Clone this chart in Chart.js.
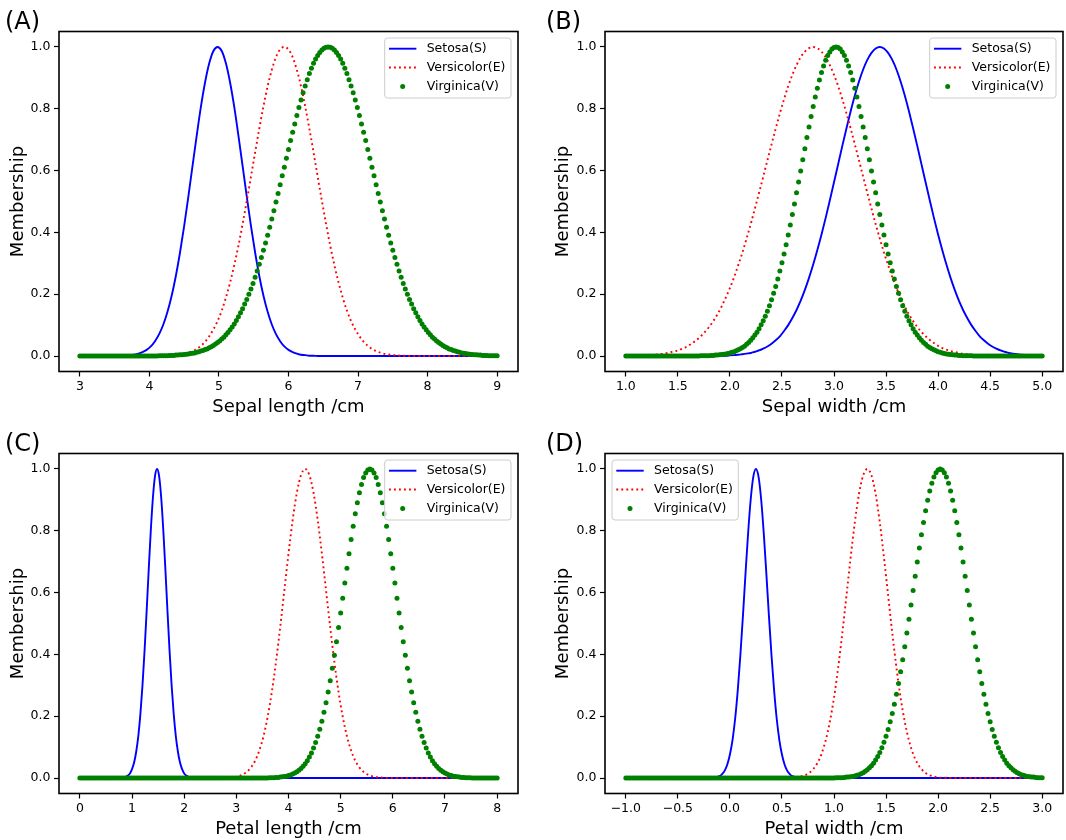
<!DOCTYPE html>
<html lang="en">
<head>
    <meta charset="UTF-8">
    <title>Iris membership functions</title>
    <script src="https://cdn.jsdelivr.net/npm/chart.js"></script>
    <style>
        body {
            margin: 0;
            width: 1066px;
            height: 840px;
            overflow: hidden;
            background: #fff;
        }
        .panel {
            position: absolute;
            width: 533px;
            height: 420px;
        }
    </style>
</head>
<body>
    <div class="panel" style="left:0;top:0"><canvas id="chartA" width="533" height="420"></canvas></div>
    <div class="panel" style="left:533px;top:0"><canvas id="chartB" width="533" height="420"></canvas></div>
    <div class="panel" style="left:0;top:422px"><canvas id="chartC" width="533" height="420"></canvas></div>
    <div class="panel" style="left:533px;top:422px"><canvas id="chartD" width="533" height="420"></canvas></div>

    <script>
        // ---- text ----
        const panelTags = ["(A)", "(B)", "(C)", "(D)"];
        const xTitles = ["Sepal length /cm", "Sepal width /cm", "Petal length /cm", "Petal width /cm"];
        const yTitle = "Membership";
        const seriesNames = ["Setosa(S)", "Versicolor(E)", "Virginica(V)"];

        // ---- tick labels ----
        const xTicksA = [3, 4, 5, 6, 7, 8, 9];
        const xTicksB = [1.0, 1.5, 2.0, 2.5, 3.0, 3.5, 4.0, 4.5, 5.0];
        const xTicksC = [0, 1, 2, 3, 4, 5, 6, 7, 8];
        const xTicksD = [-1.0, -0.5, 0.0, 0.5, 1.0, 1.5, 2.0, 2.5, 3.0];
        const yTicks = [0.0, 0.2, 0.4, 0.6, 0.8, 1.0];

        // ---- series: each one sampled on an even grid [first x, step] ----
        const setosaAGrid = [3, 0.06];
        const setosaA = [
            0,0,0,0,0,0,0,0,0,0,
            0.001,0.001,0.003,0.004,0.008,0.013,0.020,0.031,0.048,0.071,0.102,0.143,0.195,0.259,0.335,0.421,0.516,0.615,0.713,0.806,0.885,0.947,0.987,
            1,
            0.987,0.947,0.885,0.806,0.713,0.615,0.516,0.421,0.335,0.259,0.195,0.143,0.102,0.071,0.048,0.031,0.020,0.013,0.008,0.004,0.003,0.001,0.001,
            0,0,0,0,0,0,0,0,0,0, 0,0,0,0,0,0,0,0,0,0,
            0,0,0,0,0,0,0,0,0,0, 0,0,0,0,0,0,0,0,0,0,
            0,0,0,0
        ];
        const versicolorAGrid = [3, 0.06];
        const versicolorA = [
            0,0,0,0,0,0,0,0,0,0, 0,0,0,0,0,0,0,0,0,0,
            0.001,0.001,0.002,0.003,0.005,0.007,0.011,0.016,0.023,0.033,0.046,0.064,0.086,0.113,0.147,
            0.189,0.238,0.294,0.357,0.427,0.502,0.580,0.659,0.736,0.808,0.873,0.926,0.967,0.992,
            1,
            0.992,0.967,0.926,0.873,0.808,0.736,0.659,0.580,0.502,0.427,0.357,0.294,0.238,0.189,
            0.147,0.113,0.086,0.064,0.046,0.033,0.023,0.016,0.011,0.007,0.005,0.003,0.002,0.001,0.001,
            0,0,0,0,0,0,0,0,0,0, 0,0,0,0,0,0,0,0,0,0,
            0,0
        ];
        const virginicaAGrid = [3, 0.03];
        const virginicaA = [
            0,0,0,0,0,0,0,0,0,0, 0,0,0,0,0,0,0,0,0,0,
            0,0,0,0,0,0,0,0,0,0, 0,0,0,0,0,0,0,0,
            0.001,0.001,0.001,0.001,0.001,0.002,0.002,0.002,0.003,0.003,
            0.004,0.004,0.005,0.006,0.007,0.008,0.009,0.010,0.012,0.014,
            0.016,0.018,0.021,0.023,0.027,0.030,0.034,0.039,0.044,0.049,
            0.055,0.061,0.069,0.076,0.085,0.094,0.104,0.115,0.127,0.140,
            0.153,0.168,0.183,0.200,0.217,0.235,0.255,0.275,0.297,0.319,
            0.342,0.366,0.391,0.417,0.443,0.470,0.498,0.526,0.554,0.583,
            0.611,0.640,0.668,0.697,0.724,0.751,0.778,0.804,0.828,0.852,
            0.874,0.894,0.914,0.931,0.947,0.961,0.972,0.982,0.990,0.996,
            0.999,
            1,
            0.999,0.996,0.990,0.982,0.972,0.961,0.947,0.931,0.914,0.894,
            0.874,0.852,0.828,0.804,0.778,0.751,0.724,0.697,0.668,0.640,
            0.611,0.583,0.554,0.526,0.498,0.470,0.443,0.417,0.391,0.366,
            0.342,0.319,0.297,0.275,0.255,0.235,0.217,0.200,0.183,0.168,
            0.153,0.140,0.127,0.115,0.104,0.094,0.085,0.076,0.069,0.061,
            0.055,0.049,0.044,0.039,0.034,0.030,0.027,0.023,0.021,0.018,
            0.016,0.014,0.012,0.010,0.009,0.008,0.007,0.006,0.005,0.004,
            0.004,0.003,0.003,0.002,0.002,0.002,0.001,0.001,0.001,0.001,
            0.001
        ];

        const setosaBGrid = [1, 0.04];
        const setosaB = [
            0,0,0,0,0,0,0,0,0,0, 0,0,0,0,0,0,0,0,0,0,
            0,0,
            0.001,0.001,0.001,0.002,0.003,0.004,0.006,0.008,0.010,0.014,
            0.018,0.024,0.031,0.040,0.051,0.064,0.081,0.100,0.123,0.149,
            0.179,0.214,0.253,0.296,0.343,0.393,0.447,0.504,0.562,0.621,
            0.680,0.737,0.792,0.843,0.888,0.927,0.958,0.981,0.995,
            1,
            0.995,0.981,0.958,0.927,0.888,0.843,0.792,0.737,0.680,
            0.621,0.562,0.504,0.447,0.393,0.343,0.296,0.253,0.214,0.179,
            0.149,0.123,0.100,0.081,0.064,0.051,0.040,0.031,0.024,0.018,
            0.014,0.010,0.008,0.006,0.004,0.003,0.002,0.001,0.001,0.001
        ];
        const versicolorBGrid = [1, 0.04];
        const versicolorB = [
            0,
            0.001,0.001,0.001,0.002,0.002,0.003,0.004,0.006,0.007,0.010,
            0.013,0.016,0.021,0.026,0.033,0.042,0.052,0.064,0.078,0.094,
            0.113,0.135,0.160,0.189,0.220,0.255,0.294,0.335,0.380,0.427,
            0.477,0.528,0.580,0.633,0.685,0.736,0.785,0.831,0.873,0.910,
            0.941,0.967,0.985,0.996,
            1,
            0.996,0.985,0.967,0.941,
            0.910,0.873,0.831,0.785,0.736,0.685,0.633,0.580,0.528,0.477,
            0.427,0.380,0.335,0.294,0.255,0.220,0.189,0.160,0.135,0.113,
            0.094,0.078,0.064,0.052,0.042,0.033,0.026,0.021,0.016,0.013,
            0.010,0.007,0.006,0.004,0.003,0.002,0.002,0.001,0.001,0.001,
            0,0,0,0,0,0,0,0,0,0, 0
        ];
        const virginicaBGrid = [1, 0.02];
        const virginicaB = [
            0,0,0,0,0,0,0,0,0,0, 0,0,0,0,0,0,0,0,0,0,
            0,0,0,0,0,0,0,0,0,0, 0,0,0,0,0,0,
            0.001,0.001,0.001,0.001,0.001,0.002,0.002,0.003,0.003,0.004,
            0.005,0.006,0.007,0.008,0.010,0.012,0.014,0.017,0.020,0.024,
            0.028,0.032,0.038,0.044,0.051,0.059,0.068,0.077,0.088,0.101,
            0.114,0.129,0.145,0.163,0.182,0.203,0.225,0.249,0.275,0.302,
            0.330,0.360,0.392,0.424,0.458,0.492,0.528,0.563,0.599,0.635,
            0.671,0.707,0.741,0.775,0.807,0.838,0.866,0.893,0.917,0.938,
            0.957,0.972,0.984,0.993,0.998,
            1,
            0.998,0.993,0.984,0.972,0.957,
            0.938,0.917,0.893,0.866,0.838,0.807,0.775,0.741,0.707,0.671,
            0.635,0.599,0.563,0.528,0.492,0.458,0.424,0.392,0.360,0.330,
            0.302,0.275,0.249,0.225,0.203,0.182,0.163,0.145,0.129,0.114,
            0.101,0.088,0.077,0.068,0.059,0.051,0.044,0.038,0.032,0.028,
            0.024,0.020,0.017,0.014,0.012,0.010,0.008,0.007,0.006,0.005,
            0.004,0.003,0.003,0.002,0.002,0.001,0.001,0.001,0.001,0.001,
            0,0,0,0,0,0,0,0,0,0, 0,0,0,0,0,0,0,0,0,0,
            0,0,0,0,0,0,0,0,0,0, 0,0,0,0
        ];

        const setosaCGrid = [0, 0.04];
        const setosaC = [
            0,0,0,0,0,0,0,0,0,0, 0,0,0,0,0,0,0,0,0,0,
            0.001,0.002,0.004,0.008,0.015,0.029,0.050,0.085,0.135,0.206,0.298,0.411,0.539,0.674,0.801,0.906,0.976,
            1,
            0.976,0.906,0.801,0.674,0.539,0.411,0.298,0.206,0.135,0.085,0.050,0.029,0.015,0.008,0.004,0.002,0.001,
            0,0,0,0,0,0,0,0,0,0, 0,0,0,0,0,0,0,0,0,0,
            0,0,0,0,0,0,0,0,0,0, 0,0,0,0,0,0,0,0,0,0,
            0,0,0,0,0,0,0,0,0,0, 0,0,0,0,0,0,0,0,0,0,
            0,0,0,0,0,0,0,0,0,0, 0,0,0,0,0,0,0,0,0,0,
            0,0,0,0,0,0,0,0,0,0, 0,0,0,0,0,0,0,0,0,0,
            0,0,0,0,0,0,0,0,0,0, 0,0,0,0,0,0,0,0,0,0,
            0,0,0,0,0,0,0,0,0,0, 0,0,0,0,0,0,0,0,0,0,
            0,0,0,0,0,0
        ];
        const versicolorCGrid = [0, 0.08];
        const versicolorC = [
            0,0,0,0,0,0,0,0,0,0, 0,0,0,0,0,0,0,0,0,0,
            0,0,0,0,0,0,0,0,0,0, 0,0,0,0,0,
            0.001,0.002,0.003,0.006,0.011,0.020,0.034,0.056,0.089,0.135,0.198,0.278,0.375,0.487,0.607,0.726,0.835,0.923,0.980,
            1,
            0.980,0.923,0.835,0.726,0.607,0.487,0.375,0.278,0.198,0.135,0.089,0.056,0.034,0.020,0.011,0.006,0.003,0.002,0.001,
            0,0,0,0,0,0,0,0,0,0, 0,0,0,0,0,0,0,0,0,0,
            0,0,0,0,0,0,0
        ];
        const virginicaCGrid = [0, 0.04];
        const virginicaC = [
            0,0,0,0,0,0,0,0,0,0, 0,0,0,0,0,0,0,0,0,0,
            0,0,0,0,0,0,0,0,0,0, 0,0,0,0,0,0,0,0,0,0,
            0,0,0,0,0,0,0,0,0,0, 0,0,0,0,0,0,0,0,0,0,
            0,0,0,0,0,0,0,0,0,0, 0,0,0,0,0,0,0,0,0,0,
            0,0,0,0,0,0,0,0,0,0, 0,
            0.001,0.001,0.001,0.002,0.002,0.003,0.004,0.005,0.006,0.008,
            0.010,0.013,0.016,0.020,0.025,0.031,0.038,0.046,0.056,0.068,
            0.081,0.097,0.115,0.135,0.158,0.184,0.213,0.244,0.278,0.315,
            0.355,0.397,0.441,0.487,0.534,0.582,0.631,0.679,0.726,0.772,
            0.815,0.855,0.891,0.923,0.950,0.972,0.987,0.997,
            1,
            0.997,0.987,0.972,0.950,0.923,0.891,0.855,0.815,
            0.772,0.726,0.679,0.631,0.582,0.534,0.487,0.441,0.397,0.355,
            0.315,0.278,0.244,0.213,0.184,0.158,0.135,0.115,0.097,0.081,
            0.068,0.056,0.046,0.038,0.031,0.025,0.020,0.016,0.013,0.010,
            0.008,0.006,0.005,0.004,0.003,0.002,0.002,0.001,0.001,0.001,
            0,0,0,0,0,0,0,0,0,0, 0,0,0
        ];

        const setosaDGrid = [-1, 0.025];
        const setosaD = [
            0,0,0,0,0,0,0,0,0,0, 0,0,0,0,0,0,0,0,0,0,
            0,0,0,0,0,0,0,0,0,0, 0,0,0,
            0.001,0.001,0.003,0.006,0.013,0.024,0.044,0.076,0.123,0.191,0.282,0.395,0.524,0.662,0.793,0.902,0.975,
            1,
            0.975,0.902,0.793,0.662,0.524,0.395,0.282,0.191,0.123,0.076,0.044,0.024,0.013,0.006,0.003,0.001,0.001,
            0,0,0,0,0,0,0,0,0,0, 0,0,0,0,0,0,0,0,0,0,
            0,0,0,0,0,0,0,0,0,0, 0,0,0,0,0,0,0,0,0,0,
            0,0,0,0,0,0,0,0,0,0, 0,0,0,0,0,0,0,0,0,0,
            0,0,0,0,0,0,0,0,0,0, 0,0,0,0,0,0,0,0,0,0,
            0,0,0,0,0,0,0,0,0,0, 0,0,0
        ];
        const versicolorDGrid = [-1, 0.04];
        const versicolorD = [
            0,0,0,0,0,0,0,0,0,0, 0,0,0,0,0,0,0,0,0,0,
            0,0,0,0,0,0,0,0,0,0, 0,0,0,0,0,0,0,0,0,
            0.001,0.001,0.002,0.005,0.009,0.016,0.029,0.048,0.078,0.122,0.182,0.260,0.357,0.469,0.591,0.714,0.827,0.919,0.979,
            1,
            0.979,0.919,0.827,0.714,0.591,0.469,0.357,0.260,0.182,0.122,0.078,0.048,0.029,0.016,0.009,0.005,0.002,0.001,0.001,
            0,0,0,0,0,0,0,0,0,0, 0,0,0,0,0,0,0,0,0,0,
            0,0,0
        ];
        const virginicaDGrid = [-1, 0.02];
        const virginicaD = [
            0,0,0,0,0,0,0,0,0,0, 0,0,0,0,0,0,0,0,0,0,
            0,0,0,0,0,0,0,0,0,0, 0,0,0,0,0,0,0,0,0,0,
            0,0,0,0,0,0,0,0,0,0, 0,0,0,0,0,0,0,0,0,0,
            0,0,0,0,0,0,0,0,0,0, 0,0,0,0,0,0,0,0,0,0,
            0,0,0,0,0,0,0,0,0,0, 0,0,0,0,0,0,0,0,0,0,
            0,
            0.001,0.001,0.001,0.001,0.002,0.003,0.003,0.004,0.005,0.007,
            0.009,0.011,0.014,0.017,0.022,0.027,0.033,0.040,0.048,0.058,
            0.070,0.083,0.098,0.116,0.135,0.157,0.182,0.209,0.239,0.271,
            0.306,0.344,0.383,0.425,0.469,0.514,0.560,0.607,0.653,0.699,
            0.744,0.787,0.827,0.865,0.899,0.929,0.954,0.974,0.988,0.997,
            1,
            0.997,0.988,0.974,0.954,0.929,0.899,0.865,0.827,0.787,0.744,
            0.699,0.653,0.607,0.560,0.514,0.469,0.425,0.383,0.344,0.306,
            0.271,0.239,0.209,0.182,0.157,0.135,0.116,0.098,0.083,0.070,
            0.058,0.048,0.040,0.033,0.027,0.022,0.017,0.014,0.011,0.009,
            0.007,0.005,0.004,0.003,0.003,0.002,0.001,0.001,0.001
        ];

        // ---- drawing ----
        const FONT = '"DejaVu Sans", sans-serif';
        Chart.defaults.font.family = FONT;
        Chart.defaults.color = "#000";

        function points(grid, ys) {
            return ys.map((y, i) => ({ x: grid[0] + i * grid[1], y: y }));
        }

        function tickText(v, decimals) {
            const s = Math.abs(v).toFixed(decimals);
            return v < 0 ? "\u2212" + s : s;
        }

        // frame, panel tag and matplotlib-like legend
        const decorPlugin = {
            id: "decor",
            afterDatasetsDraw(chart) {
                const ctx = chart.ctx, a = chart.chartArea;
                ctx.save();
                ctx.strokeStyle = "#000";
                ctx.lineWidth = 1.6;
                ctx.strokeRect(a.left, a.top, a.right - a.left, a.bottom - a.top);
                ctx.restore();
            },
            afterDraw(chart, args, opts) {
                const ctx = chart.ctx, a = chart.chartArea;
                ctx.save();
                ctx.fillStyle = "#000";
                ctx.textAlign = "left";
                ctx.textBaseline = "alphabetic";
                ctx.font = "24px " + FONT;
                ctx.fillText(opts.tag, opts.tagX, a.top - 3);

                ctx.font = "12.5px " + FONT;
                const sets = chart.data.datasets;
                const textW = Math.max(...sets.map(d => ctx.measureText(d.label).width));
                const w = 42 + textW + 5.5, h = 60, r = 3;
                const x = opts.legendSide === "left" ? a.left + 7 : a.right - 7 - w;
                const y = a.top + 6.5;
                ctx.beginPath();
                ctx.moveTo(x + r, y);
                ctx.arcTo(x + w, y, x + w, y + h, r);
                ctx.arcTo(x + w, y + h, x, y + h, r);
                ctx.arcTo(x, y + h, x, y, r);
                ctx.arcTo(x, y, x + w, y, r);
                ctx.closePath();
                ctx.fillStyle = "rgba(255,255,255,0.8)";
                ctx.fill();
                ctx.strokeStyle = "#cccccc";
                ctx.lineWidth = 1;
                ctx.stroke();

                sets.forEach((d, i) => {
                    const cy = y + 10.7 + i * 18.85;
                    if (d.showLine === false) {
                        ctx.beginPath();
                        ctx.arc(x + 18, cy, d.pointRadius, 0, Math.PI * 2);
                        ctx.fillStyle = d.pointBackgroundColor;
                        ctx.fill();
                    } else {
                        ctx.beginPath();
                        ctx.setLineDash(d.borderDash || []);
                        ctx.moveTo(x + 4.3, cy);
                        ctx.lineTo(x + 31.7, cy);
                        ctx.strokeStyle = d.borderColor;
                        ctx.lineWidth = d.borderWidth;
                        ctx.stroke();
                        ctx.setLineDash([]);
                    }
                    ctx.fillStyle = "#000";
                    ctx.textBaseline = "middle";
                    ctx.fillText(d.label, x + 42, cy);
                });
                ctx.restore();
            }
        };

        function makeChart(p) {
            const tickGrid = {
                display: true,
                drawOnChartArea: false,
                drawTicks: true,
                tickLength: 5,
                tickWidth: 1.2,
                tickColor: "#000"
            };
            new Chart(document.getElementById(p.id), {
                type: "line",
                data: {
                    datasets: [
                        {
                            label: seriesNames[0],
                            data: points(p.series[0][0], p.series[0][1]),
                            borderColor: "#0000ff",
                            borderWidth: 1.9,
                            pointRadius: 0,
                            fill: false,
                            cubicInterpolationMode: "monotone",
                            order: 3
                        },
                        {
                            label: seriesNames[1],
                            data: points(p.series[1][0], p.series[1][1]),
                            borderColor: "#ff0000",
                            borderWidth: 1.9,
                            borderDash: [1.9, 3.1],
                            borderCapStyle: "butt",
                            pointRadius: 0,
                            fill: false,
                            cubicInterpolationMode: "monotone",
                            order: 2
                        },
                        {
                            label: seriesNames[2],
                            data: points(p.series[2][0], p.series[2][1]),
                            showLine: false,
                            borderColor: "#008000",
                            pointBackgroundColor: "#008000",
                            pointBorderWidth: 0,
                            pointRadius: 2.5,
                            pointHoverRadius: 2.5,
                            order: 1
                        }
                    ]
                },
                options: {
                    responsive: false,
                    animation: false,
                    events: [],
                    layout: { padding: { left: p.padLeft, right: p.padRight, top: 31.5, bottom: 0 } },
                    plugins: {
                        legend: { display: false },
                        tooltip: { enabled: false },
                        decor: { tag: p.tag, tagX: p.tagX, legendSide: p.legendSide }
                    },
                    scales: {
                        x: {
                            type: "linear",
                            min: p.xMin,
                            max: p.xMax,
                            afterBuildTicks: s => { s.ticks = p.xTicks.map(v => ({ value: v })); },
                            afterFit: s => { s.height = 48.5; },
                            grid: tickGrid,
                            border: { display: false },
                            ticks: {
                                autoSkip: false,
                                maxRotation: 0,
                                padding: 2.5,
                                font: { size: 12.5 },
                                callback: v => tickText(v, p.decimals)
                            },
                            title: {
                                display: true,
                                text: p.xTitle,
                                font: { size: 18 },
                                padding: { top: 0, bottom: 2 }
                            }
                        },
                        y: {
                            type: "linear",
                            min: -0.05,
                            max: 1.05,
                            afterBuildTicks: s => { s.ticks = yTicks.map(v => ({ value: v })); },
                            afterFit: s => { s.width = p.yWidth; },
                            grid: tickGrid,
                            border: { display: false },
                            ticks: {
                                padding: 3.5,
                                font: { size: 12.5 },
                                callback: v => tickText(v, 1)
                            },
                            title: {
                                display: true,
                                text: yTitle,
                                font: { size: 18 },
                                padding: { top: 8, bottom: 0 }
                            }
                        }
                    }
                },
                plugins: [decorPlugin]
            });
        }

        makeChart({
            id: "chartA", tag: panelTags[0], tagX: 5, legendSide: "right",
            xTitle: xTitles[0], xMin: 2.7, xMax: 9.3, xTicks: xTicksA, decimals: 0,
            padLeft: 0, yWidth: 59, padRight: 15,
            series: [[setosaAGrid, setosaA], [versicolorAGrid, versicolorA], [virginicaAGrid, virginicaA]]
        });
        makeChart({
            id: "chartB", tag: panelTags[1], tagX: 13, legendSide: "right",
            xTitle: xTitles[1], xMin: 0.8, xMax: 5.2, xTicks: xTicksB, decimals: 1,
            padLeft: 12, yWidth: 60, padRight: 3,
            series: [[setosaBGrid, setosaB], [versicolorBGrid, versicolorB], [virginicaBGrid, virginicaB]]
        });
        makeChart({
            id: "chartC", tag: panelTags[2], tagX: 5, legendSide: "right",
            xTitle: xTitles[2], xMin: -0.4, xMax: 8.4, xTicks: xTicksC, decimals: 0,
            padLeft: 0, yWidth: 59, padRight: 15,
            series: [[setosaCGrid, setosaC], [versicolorCGrid, versicolorC], [virginicaCGrid, virginicaC]]
        });
        makeChart({
            id: "chartD", tag: panelTags[3], tagX: 13, legendSide: "left",
            xTitle: xTitles[3], xMin: -1.2, xMax: 3.2, xTicks: xTicksD, decimals: 1,
            padLeft: 12, yWidth: 60, padRight: 3,
            series: [[setosaDGrid, setosaD], [versicolorDGrid, versicolorD], [virginicaDGrid, virginicaD]]
        });
    </script>
</body>
</html>
